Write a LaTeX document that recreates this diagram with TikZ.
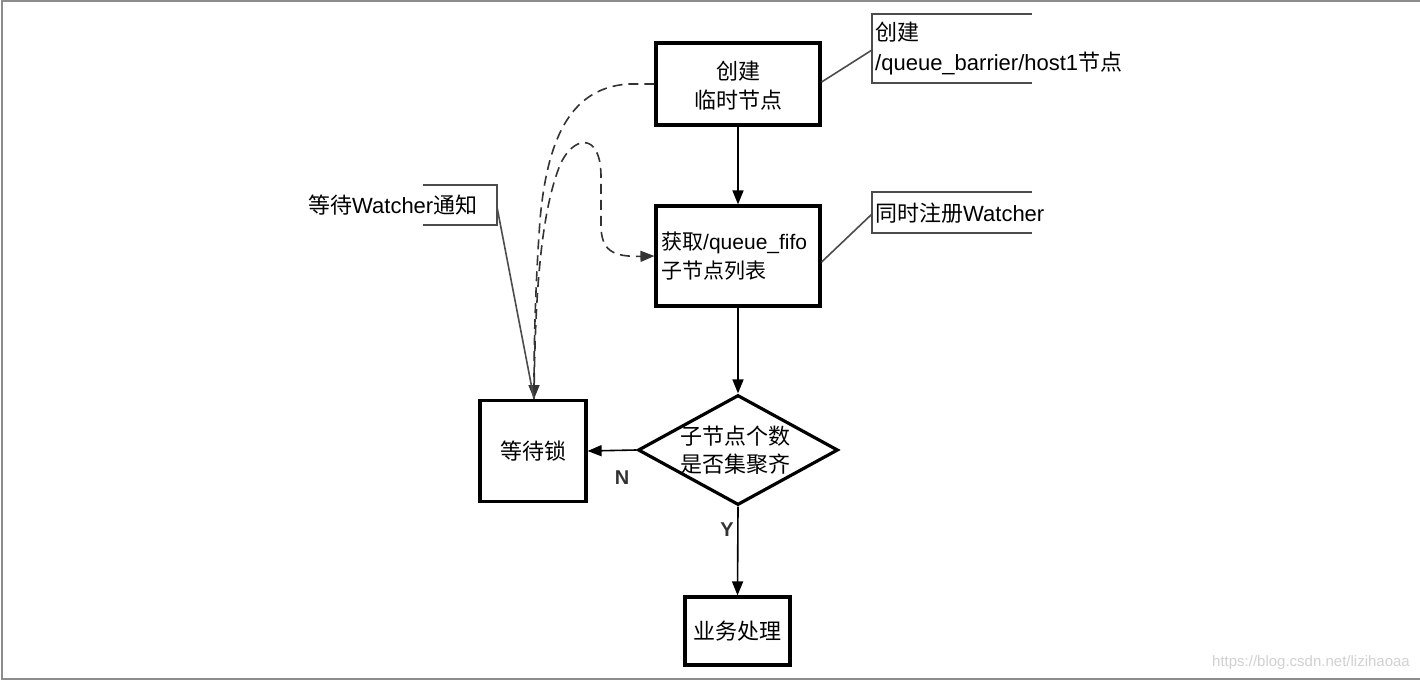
\documentclass[tikz,border=0pt]{standalone}
\usepackage{fontspec}
\setmainfont{Liberation Sans}
\newfontfamily\cjk{Noto Sans CJK SC}
\usetikzlibrary{arrows.meta,shapes.geometric}
\tikzset{
  box/.style={draw=black,line width=3.2pt,minimum width=164pt,minimum height=82pt,inner sep=0pt,font=\fontsize{22}{29}\selectfont},
  tip/.tip={Triangle[length=14pt,width=11pt]},
  flow/.style={line width=1.6pt,-tip},
  dashflow/.style={line width=1.6pt,draw=black!80,dash pattern=on 10pt off 6pt},
  callout/.style={line width=1.6pt,draw=black!70},
  lbl/.style={font=\fontsize{22}{29}\selectfont,inner sep=0pt,anchor=west},
  yn/.style={font=\fontsize{20}{24}\selectfont\bfseries,inner sep=0pt,text=black!80}
}
\begin{document}
\begin{tikzpicture}[x=1pt,y=-1pt]
\useasboundingbox (0,0) rectangle (1420,682);
\fill[white] (0,0) rectangle (1420,682);
\draw[black!45,line width=2.5pt] (1420,1) -- (2,1) -- (2,679) -- (1420,679);

% main boxes
\node[box,minimum width=164pt,minimum height=82pt] (create) at (738,84) {};
\node[font=\fontsize{22}{29}\selectfont,inner sep=0pt] (createtxt) at (738,88) {\begin{tabular}{c}\cjk 创建\\[0pt]\cjk 临时节点\end{tabular}};
\node[box,minimum width=164pt,minimum height=100pt] (fetch) at (738,256) {};
\node[font=\fontsize{21}{29}\selectfont,inner sep=0pt,anchor=west] (fetchtxt) at (661,258) {\begin{tabular}{@{}l@{}}{\cjk 获取}/queue\_fifo\\[0pt]\cjk 子节点列表\end{tabular}};
\node[draw=black,line width=3.2pt,diamond,aspect=1.82,minimum width=200pt,minimum height=110pt,inner sep=0pt] (check) at (738,450) {};
\node[font=\fontsize{22}{29}\selectfont,inner sep=0pt] (checktxt) at (735,453) {\begin{tabular}{c}\cjk 子节点个数\\[-1pt]\cjk 是否集聚齐\end{tabular}};
\node[box,minimum width=106pt,minimum height=101pt] (lock) at (533,451) {\cjk 等待锁};
\node[box,minimum width=105pt,minimum height=68pt] (work) at (737.5,631) {\cjk 业务处理};

% flow arrows
\draw[flow] (create.south) -- (fetch.north);
\draw[flow] (fetch.south) -- (check.north);
\draw[flow] (check.west) -- (lock.east);
\draw[flow] (check.south) -- (work.north);
\node[yn] (nlab) at (622,478) {N};
\node[yn] (ylab) at (727,530) {Y};

% dashed feedback curves
\coordinate (locktop) at (534,399);
\draw[dashflow,-tip] (create.west) -- (628,84)
  .. controls (575,88) and (548,130) .. (540,220)
  .. controls (535,290) and (534,350) .. (locktop);
\draw[dashflow,-tip] (locktop)
  .. controls (535,300) and (540,215) .. (560,165)
  .. controls (572,137) and (600,130) .. (601,175)
  -- (601,225)
  .. controls (601,250) and (612,257) .. (fetch.west);

% callouts
\draw[callout] (1032,14) -- (872,14) -- (872,83) -- (1032,83);
\node[lbl] (c1) at (875,50) {\begin{tabular}{@{}l@{}}\cjk 创建\\[1pt]/queue\_barrier/host1{\cjk 节点}\end{tabular}};
\coordinate (c1anchor) at (872,50);
\draw[callout] ([yshift=2pt]create.east) -- (c1anchor);

\draw[callout] (1032,192) -- (872,192) -- (872,233) -- (1032,233);
\node[lbl] (c2) at (875,213) {{\cjk 同时注册}Watcher};
\coordinate (c2anchor) at (872,214);
\draw[callout] ([yshift=-6pt]fetch.east) -- (c2anchor);

\draw[callout] (423,185) -- (497,185) -- (497,225) -- (423,225);
\node[lbl] (c3) at (308,205) {{\cjk 等待}Watcher{\cjk 通知}};
\coordinate (c3anchor) at (497,207);
\draw[callout] (c3anchor) -- (locktop);

% watermark
\node[font=\fontsize{15}{18}\selectfont,text=black!18,anchor=east,inner sep=0pt] (wm) at (1410,663) {https://blog.csdn.net/lizihaoaa};
\end{tikzpicture}
\end{document}
